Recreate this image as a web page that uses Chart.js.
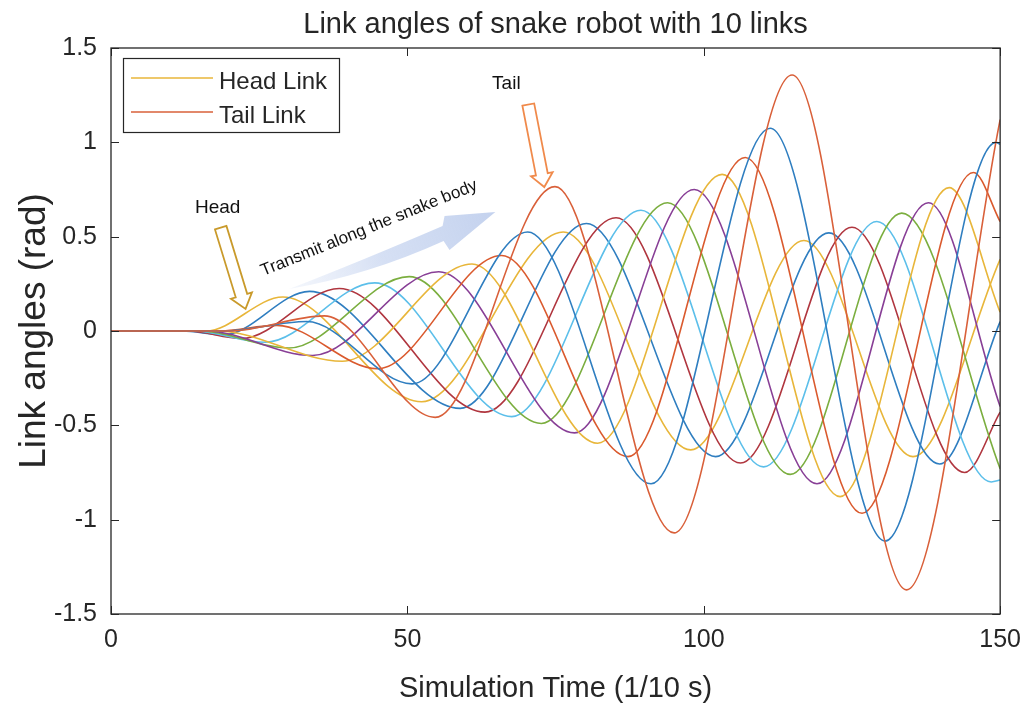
<!DOCTYPE html>
<html>
<head>
<meta charset="utf-8">
<title>Link angles of snake robot with 10 links</title>
<script src="https://cdn.jsdelivr.net/npm/chart.js@4.4.1/dist/chart.umd.min.js"></script>
<style>
  html, body { margin: 0; padding: 0; background: #ffffff; }
  #wrap { width: 1032px; height: 704px; }
  canvas { display: block; }
</style>
</head>
<body>
<div id="wrap"><canvas id="chart" width="1032" height="704"></canvas></div>
<script>
// Turning points (time in 1/10 s, angle in rad) of every link, head to tail.
const link1Time   = [0, 16, 29, 52.4, 76.3, 97.8, 116.9, 135.3, 150];
const link1Angle  = [0, 0, 0.18, -0.375, 0.525, -0.63, 0.48, -0.666, 0.38];
const link2Time   = [0, 12, 19, 33.5, 58.9, 80.2, 102, 121.1, 139.8, 150];
const link2Angle  = [0, 0, -0.02, 0.21, -0.41, 0.57, -0.666, 0.52, -0.705, 0.05];
const link3Time   = [0, 13, 22, 38.5, 63.1, 85.2, 106.2, 125, 144, 150];
const link3Angle  = [0, 0, -0.04, 0.225, -0.43, 0.60, -0.70, 0.55, -0.75, -0.43];
const link4Time   = [0, 14, 26, 44.5, 67.6, 89.4, 110.1, 129.2, 148.5, 150];
const link4Angle  = [0, 0, -0.06, 0.255, -0.454, 0.64, -0.72, 0.58, -0.80, -0.79];
const link5Time   = [0, 15, 30, 50.3, 72.6, 93.9, 114.6, 133.4, 150];
const link5Angle  = [0, 0, -0.09, 0.288, -0.49, 0.68, -0.76, 0.625, -0.73];
const link6Time   = [0, 16, 34, 55.3, 78.2, 98.4, 119.1, 137.9, 150];
const link6Angle  = [0, 0, -0.13, 0.314, -0.54, 0.75, -0.81, 0.68, -0.40];
const link7Time   = [0, 18, 39, 60.9, 82.1, 103.1, 123, 141.4, 150];
const link7Angle  = [0, 0, -0.16, 0.355, -0.595, 0.83, -0.878, 0.76, 0.1];
const link8Time   = [0, 18, 28, 45, 65.9, 87.2, 107, 126.7, 145.5, 150];
const link8Angle  = [0, 0, 0.03, -0.2, 0.40, -0.666, 0.92, -0.966, 0.84, 0.58];
const link9Time   = [0, 19, 33, 50.8, 70.3, 91.1, 111.2, 130.6, 149.3, 150];
const link9Angle  = [0, 0, 0.05, -0.28, 0.525, -0.81, 1.075, -1.113, 1.0, 0.99];
const link10Time  = [0, 20, 36, 54.7, 74.9, 95.0, 114.9, 134.2, 150];
const link10Angle = [0, 0, 0.08, -0.458, 0.765, -1.07, 1.357, -1.372, 1.12];

const linkLabels = ['Head Link', 'Link 2', 'Link 3', 'Link 4', 'Link 5',
                    'Link 6', 'Link 7', 'Link 8', 'Link 9', 'Tail Link'];

// Axis ranges and tick values
const timeTicks  = [0, 50, 100, 150];
const angleTicks = [-1.5, -1, -0.5, 0, 0.5, 1, 1.5];

// ---- styling ----
const FONT = '"Liberation Sans", Arial, Helvetica, sans-serif';
const INK = '#262626';
const linkColors = ['#E8B63A', '#2F7EC0', '#B0363F', '#5CBFEA', '#7BAE3F',
                    '#883F96', '#E8B63A', '#DA5A2E', '#2F7EC0', '#D9603A'];

const linkTimes  = [link1Time, link2Time, link3Time, link4Time, link5Time,
                    link6Time, link7Time, link8Time, link9Time, link10Time];
const linkAngles = [link1Angle, link2Angle, link3Angle, link4Angle, link5Angle,
                    link6Angle, link7Angle, link8Angle, link9Angle, link10Angle];

const datasets = linkTimes.map((times, i) => ({
  label: linkLabels[i],
  data: times.map((t, j) => ({ x: t, y: linkAngles[i][j] })),
  borderColor: linkColors[i],
  borderWidth: 1.6,
  pointRadius: 0,
  fill: false,
  cubicInterpolationMode: 'monotone',
  order: 10 - i
}));

// Call-out geometry, in data units (time, angle)
const headNote   = { text: 'Head', at: [18.0, 0.652], tip: [22.7, 0.117], tilt: -17, color: '#C99A2B' };
const tailNote   = { text: 'Tail', at: [66.7, 1.309], tip: [73.1, 0.763], tilt: -11, color: '#F08A4B' };
const waveNote   = { text: 'Transmit along the snake body', at: [25.7, 0.2915], angle: -22 };
const waveArrow  = {
  start: [30.07, 0.2226], upperCtrl: [41.83, 0.3657], upperEnd: [55.94, 0.5564],
  upperWing: [56.27, 0.6094], tip: [64.84, 0.6306], lowerWing: [57.11, 0.4293],
  lowerEnd: [56.11, 0.4769], lowerCtrl: [43.51, 0.2968]
};

function hollowArrow(ctx, x, y, tilt, len, shaftW, headLen, headW, color) {
  ctx.save();
  ctx.translate(x, y);
  ctx.rotate(tilt * Math.PI / 180);
  ctx.beginPath();
  ctx.moveTo(-shaftW / 2, -len);
  ctx.lineTo(shaftW / 2, -len);
  ctx.lineTo(shaftW / 2, -headLen);
  ctx.lineTo(headW / 2, -headLen);
  ctx.lineTo(0, 0);
  ctx.lineTo(-headW / 2, -headLen);
  ctx.lineTo(-shaftW / 2, -headLen);
  ctx.closePath();
  ctx.fillStyle = '#ffffff';
  ctx.fill();
  ctx.lineJoin = 'miter';
  ctx.strokeStyle = color;
  ctx.lineWidth = 1.8;
  ctx.stroke();
  ctx.restore();
}

const figureDecor = {
  id: 'figureDecor',
  beforeDatasetsDraw(chart) {
    const { ctx, scales: { x, y } } = chart;
    const P = (p) => [x.getPixelForValue(p[0]), y.getPixelForValue(p[1])];
    const a = waveArrow;
    const s = P(a.start), uc = P(a.upperCtrl), ue = P(a.upperEnd), uw = P(a.upperWing);
    const t = P(a.tip), lw = P(a.lowerWing), le = P(a.lowerEnd), lc = P(a.lowerCtrl);
    ctx.save();
    const g = ctx.createLinearGradient(s[0], s[1], t[0], t[1]);
    g.addColorStop(0, 'rgba(214,224,244,0.25)');
    g.addColorStop(0.45, 'rgba(206,218,242,0.85)');
    g.addColorStop(1, 'rgba(196,210,238,1)');
    ctx.beginPath();
    ctx.moveTo(s[0], s[1]);
    ctx.quadraticCurveTo(uc[0], uc[1], ue[0], ue[1]);
    ctx.lineTo(uw[0], uw[1]);
    ctx.lineTo(t[0], t[1]);
    ctx.lineTo(lw[0], lw[1]);
    ctx.lineTo(le[0], le[1]);
    ctx.quadraticCurveTo(lc[0], lc[1], s[0], s[1]);
    ctx.closePath();
    ctx.fillStyle = g;
    ctx.fill();
    ctx.restore();
  },
  afterDraw(chart) {
    const { ctx, chartArea: ca, scales: { x, y } } = chart;
    ctx.save();

    // axes box with inward ticks
    ctx.strokeStyle = INK;
    ctx.lineWidth = 1.3;
    ctx.strokeRect(ca.left, ca.top, ca.right - ca.left, ca.bottom - ca.top);
    ctx.beginPath();
    timeTicks.forEach(v => {
      const px = Math.round(x.getPixelForValue(v)) + 0.5;
      ctx.moveTo(px, ca.bottom); ctx.lineTo(px, ca.bottom - 8);
      ctx.moveTo(px, ca.top);    ctx.lineTo(px, ca.top + 8);
    });
    angleTicks.forEach(v => {
      const py = Math.round(y.getPixelForValue(v)) + 0.5;
      ctx.moveTo(ca.left, py);  ctx.lineTo(ca.left + 8, py);
      ctx.moveTo(ca.right, py); ctx.lineTo(ca.right - 8, py);
    });
    ctx.lineWidth = 1;
    ctx.stroke();

    // title and axis titles
    const midX = (ca.left + ca.right) / 2;
    ctx.fillStyle = INK;
    ctx.textAlign = 'center';
    ctx.textBaseline = 'alphabetic';
    ctx.font = '29px ' + FONT;
    ctx.fillText('Link angles of snake robot with 10 links', midX, 33);
    ctx.font = '29px ' + FONT;
    ctx.fillText('Simulation Time (1/10 s)', midX, 697);
    ctx.save();
    ctx.translate(45, (ca.top + ca.bottom) / 2);
    ctx.rotate(-Math.PI / 2);
    ctx.font = '37px ' + FONT;
    ctx.fillText('Link angles (rad)', 0, 0);
    ctx.restore();

    // legend box for the head and tail links
    const lx = ca.left + 12, ly = ca.top + 10, lwid = 216, lht = 74;
    ctx.fillStyle = '#ffffff';
    ctx.fillRect(lx, ly, lwid, lht);
    ctx.strokeStyle = INK;
    ctx.lineWidth = 1.2;
    ctx.strokeRect(lx + 0.5, ly + 0.5, lwid, lht);
    const shown = [0, chart.data.datasets.length - 1];
    shown.forEach((di, k) => {
      const ds = chart.data.datasets[di];
      const rowY = ly + 20 + k * 34;
      ctx.beginPath();
      ctx.moveTo(lx + 8, rowY);
      ctx.lineTo(lx + 90, rowY);
      ctx.strokeStyle = ds.borderColor;
      ctx.lineWidth = 1.6;
      ctx.stroke();
      ctx.fillStyle = INK;
      ctx.textAlign = 'left';
      ctx.textBaseline = 'alphabetic';
      ctx.font = '24px ' + FONT;
      ctx.fillText(ds.label, lx + 96, rowY + 11);
    });

    // call-outs
    ctx.fillStyle = '#111111';
    ctx.textAlign = 'center';
    ctx.textBaseline = 'middle';
    ctx.font = '19px ' + FONT;
    [headNote, tailNote].forEach(n => {
      ctx.fillText(n.text, x.getPixelForValue(n.at[0]), y.getPixelForValue(n.at[1]));
    });
    hollowArrow(ctx, x.getPixelForValue(headNote.tip[0]), y.getPixelForValue(headNote.tip[1]),
                headNote.tilt, 85, 12, 14, 22, headNote.color);
    hollowArrow(ctx, x.getPixelForValue(tailNote.tip[0]), y.getPixelForValue(tailNote.tip[1]),
                tailNote.tilt, 84, 12, 13, 22, tailNote.color);

    ctx.save();
    ctx.translate(x.getPixelForValue(waveNote.at[0]), y.getPixelForValue(waveNote.at[1]));
    ctx.rotate(waveNote.angle * Math.PI / 180);
    ctx.textAlign = 'left';
    ctx.textBaseline = 'alphabetic';
    ctx.font = '17px ' + FONT;
    ctx.fillStyle = '#111111';
    ctx.fillText(waveNote.text, 0, 0);
    ctx.restore();

    ctx.restore();
  }
};

new Chart(document.getElementById('chart'), {
  type: 'line',
  data: { datasets },
  plugins: [figureDecor],
  options: {
    responsive: false,
    devicePixelRatio: 1,
    animation: false,
    events: [],
    layout: { padding: { left: 0, right: 28, top: 48, bottom: 0 } },
    plugins: { legend: { display: false }, tooltip: { enabled: false }, title: { display: false } },
    scales: {
      x: {
        type: 'linear',
        min: timeTicks[0],
        max: timeTicks[timeTicks.length - 1],
        afterFit: (s) => { s.height = 90; },
        afterBuildTicks: (s) => { s.ticks = timeTicks.map(v => ({ value: v })); },
        ticks: { color: INK, font: { family: FONT, size: 25 }, padding: 11, maxRotation: 0,
                 callback: (v) => String(v) },
        grid: { display: false, drawTicks: false },
        border: { display: false }
      },
      y: {
        type: 'linear',
        min: angleTicks[0],
        max: angleTicks[angleTicks.length - 1],
        afterFit: (s) => { s.width = 111; },
        afterBuildTicks: (s) => { s.ticks = angleTicks.map(v => ({ value: v })); },
        ticks: { color: INK, font: { family: FONT, size: 25 }, padding: 14,
                 callback: (v) => String(v) },
        grid: { display: false, drawTicks: false },
        border: { display: false }
      }
    }
  }
});
</script>
</body>
</html>
